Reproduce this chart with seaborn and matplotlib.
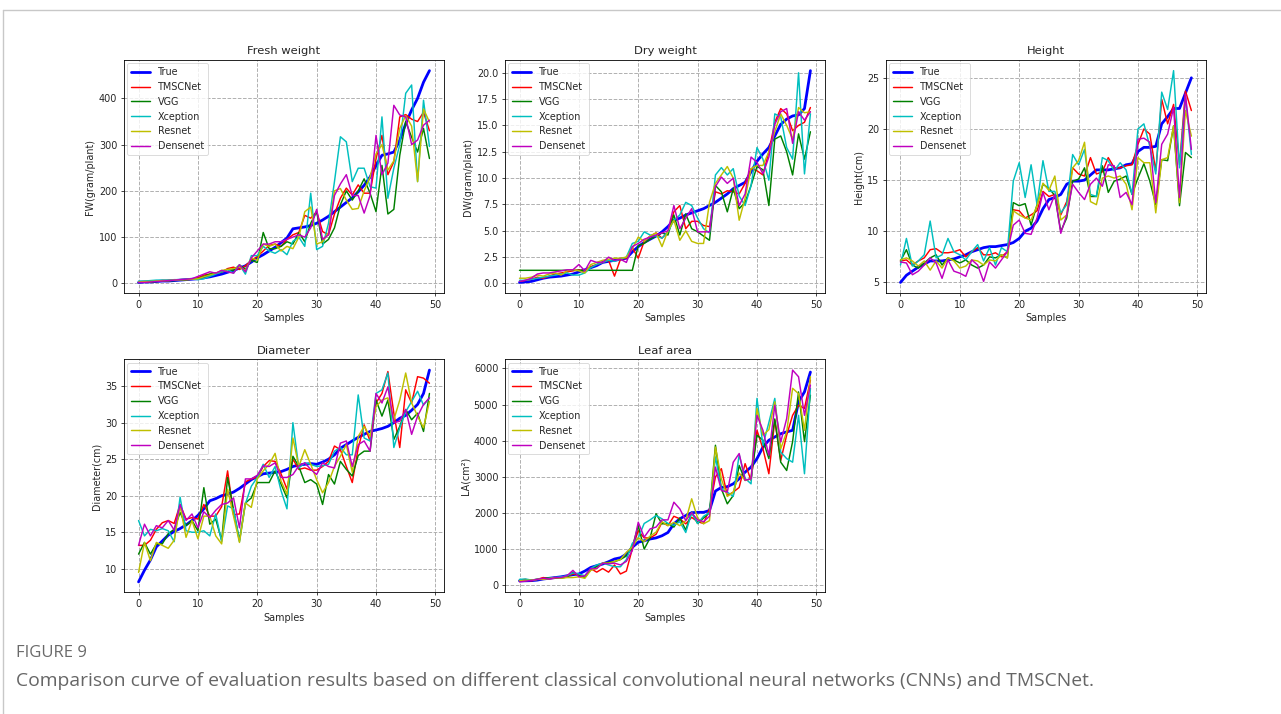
import matplotlib
matplotlib.use("Agg")
import matplotlib.pyplot as plt
from matplotlib.lines import Line2D
import numpy as np
import seaborn as sns

samples = list(range(50))
series_names = ["True", "TMSCNet", "VGG", "Xception", "Resnet", "Densenet"]
series_colors = ["#0000ff", "#ff0000", "#008000", "#00bfbf", "#bfbf00", "#bf00bf"]

# ---------------- Fresh weight ----------------
fw_true = [2,3,3,4,5,5,6,7,8,9, 10,12,14,17,20,24,28,33,38,46, 55,62,70,78,88,98,118,120,122,125,
           130,137,145,155,165,175,185,198,212,230, 255,277,280,284,310,345,375,400,435,460]
fw_tms = [3,3,4,5,6,6,7,8,8,9, 12,18,20,22,24,32,35,30,38,50, 58,70,82,85,80,95,105,110,147,141,
          155,112,105,150,184,206,191,213,195,195, 270,320,235,263,360,365,355,350,370,330]
fw_vgg = [2,3,3,4,5,6,6,7,8,9, 10,15,20,22,25,30,28,40,30,50, 45,110,75,75,80,90,85,110,90,130,
          155,85,95,120,170,200,180,200,226,195, 155,255,150,160,277,350,316,284,335,270]
fw_xcp = [5,5,6,7,7,7,8,8,9,10, 8,10,15,20,25,30,22,40,20,60, 60,80,70,65,73,62,91,100,80,195,
          73,80,130,220,317,306,220,249,249,209, 206,360,184,249,300,411,429,220,396,296]
fw_res = [3,4,4,5,6,6,7,8,8,9, 10,14,18,22,28,30,32,35,28,55, 50,85,80,85,70,80,75,100,155,165,
          85,90,110,200,205,180,160,162,200,230, 280,300,245,265,335,363,340,220,377,349]
fw_den = [2,2,3,4,5,6,7,8,9,10, 15,20,25,22,28,25,22,40,25,55, 70,85,85,90,90,95,100,105,100,120,
          160,95,105,190,215,235,190,190,152,190, 320,235,260,385,364,360,300,310,342,353]

# ---------------- Dry weight ----------------
dw_true = [0.1,0.15,0.2,0.35,0.5,0.6,0.65,0.7,0.8,0.9, 1.1,1.3,1.5,1.7,2.0,2.1,2.2,2.3,2.4,3.0,
           3.5,3.9,4.2,4.5,4.9,5.4,6.0,6.2,6.5,6.7, 6.9,7.1,7.4,7.7,8.1,8.5,9.0,9.3,9.6,10.6,
           11.6,12.3,12.9,14.0,15.1,15.6,15.9,16.0,16.6,20.2]
dw_tms = [0.2,0.3,0.4,0.6,0.5,0.7,0.9,1.0,1.1,1.2, 1.3,1.2,1.6,1.8,2.0,2.2,0.7,2.3,2.4,3.4,
          2.4,4.0,4.5,4.8,4.3,4.9,6.8,7.4,5.2,5.9, 5.9,5.5,5.4,8.7,8.5,8.8,8.7,8.5,9.5,10.9,
          10.7,10.3,12.5,15.3,16.6,16.1,14.5,15.0,15.3,16.7]
dw_vgg = [1.25,1.25,1.25,1.25,1.25,1.25,1.25,1.25,1.25,1.25, 1.25,1.25,1.25,1.25,1.25,1.25,1.25,1.25,1.25,1.25,
          3.6,3.8,4.2,4.5,4.8,4.6,6.5,4.6,6.6,5.2, 4.9,4.5,4.1,9.3,8.7,6.8,9.0,7.1,7.7,9.3,
          11.1,10.8,7.4,13.7,14.0,12.5,10.3,14.2,11.8,14.4]
dw_xcp = [0.3,0.3,0.4,0.5,0.6,0.7,0.8,0.9,1.0,0.8, 0.8,1.0,1.5,1.8,2.0,2.2,2.1,2.3,2.5,3.8,
          4.0,4.9,4.6,4.5,4.3,4.9,6.0,6.5,7.7,7.4, 6.2,5.2,4.8,10.3,11.0,10.3,10.9,8.3,7.4,9.3,
          12.9,11.8,9.8,16.1,15.8,12.9,11.8,20.0,10.4,16.1]
dw_res = [0.5,0.5,0.6,0.8,0.7,0.9,1.0,0.8,1.2,1.3, 1.2,1.0,1.8,2.0,2.2,2.3,2.4,2.4,2.5,3.3,
          4.4,4.0,4.5,4.8,3.5,5.0,6.0,4.1,5.0,4.0, 3.8,3.8,7.7,9.5,10.3,11.1,10.0,6.0,8.1,10.9,
          11.2,11.2,12.5,14.4,16.1,15.0,13.7,16.7,16.2,16.3]
dw_den = [0.2,0.3,0.5,0.9,1.0,1.0,1.1,1.2,1.3,1.3, 1.8,1.2,2.2,2.0,2.0,2.5,2.2,2.3,2.0,3.5,
          3.8,4.2,4.4,4.6,4.8,5.0,7.4,5.2,6.2,7.1, 4.9,4.9,4.9,9.2,10.1,9.5,10.0,7.4,8.5,12.0,
          11.5,10.4,12.0,15.1,16.3,16.6,13.3,16.3,15.5,16.3]

# ---------------- Height ----------------
h_true = [5.0,5.7,6.1,6.5,6.8,7.1,7.1,7.1,7.2,7.3, 7.5,7.7,8.0,8.2,8.4,8.5,8.5,8.6,8.7,8.9,
          9.3,10.0,10.3,11.0,12.2,13.1,13.3,13.6,14.6,14.9, 14.9,15.0,15.5,16.0,16.0,16.0,16.1,16.2,16.5,16.6,
          17.8,18.2,18.2,18.3,20.5,21.2,22.0,22.0,23.5,25.0]
h_tms = [7.1,7.2,6.7,7.1,7.4,8.2,8.3,7.9,7.9,8.0, 8.2,7.5,8.0,8.4,7.7,7.7,7.9,7.5,8.0,12.1,
         12.0,11.3,11.6,12.0,13.9,13.4,13.6,11.6,12.9,16.2, 15.6,15.4,17.2,15.6,15.8,17.2,16.2,16.2,16.4,16.5,
         18.5,20.0,19.5,15.9,22.9,20.5,22.4,16.5,23.7,21.8]
h_vgg = [7.1,8.2,6.7,6.4,6.9,7.4,7.7,6.7,7.4,7.2, 6.9,7.2,6.7,6.4,6.7,7.5,7.4,7.7,7.4,12.8,
         12.5,12.7,10.6,12.6,14.6,14.2,13.5,10.0,11.3,14.9, 15.1,16.2,13.4,13.4,16.4,13.8,14.9,15.1,15.4,13.6,
         15.2,16.6,14.9,12.6,17.0,16.9,20.3,12.5,17.7,17.2]
h_xcp = [6.7,9.3,6.6,7.1,7.7,11.0,7.4,7.7,9.3,8.0, 7.7,7.2,8.0,8.7,7.1,8.4,6.7,8.4,8.0,14.9,
         16.7,13.3,16.5,12.6,16.9,13.9,13.9,11.8,12.6,17.5, 16.5,18.0,13.6,13.4,17.2,16.9,15.9,16.7,16.0,13.6,
         20.0,20.5,18.3,15.6,23.6,21.9,25.7,16.2,23.1,17.5]
h_res = [7.2,7.4,7.1,6.6,7.1,6.2,7.1,6.4,7.4,7.1, 6.4,6.6,7.2,7.1,6.7,7.2,7.1,7.7,7.4,12.0,
         11.6,11.3,11.1,12.5,14.7,14.0,15.4,11.1,11.6,16.2, 16.9,18.7,12.9,12.6,15.2,15.4,15.2,15.4,14.6,12.1,
         17.2,16.7,16.7,11.8,17.0,17.2,20.3,12.8,21.8,19.3]
h_den = [7.0,6.9,5.75,6.1,6.7,7.4,6.9,5.4,7.2,6.1, 5.9,5.6,7.2,6.7,5.1,7.0,6.4,7.2,8.0,10.6,
         11.1,9.8,9.7,11.3,13.8,12.1,13.6,9.8,11.6,14.6, 13.8,13.1,14.6,15.2,14.4,16.5,16.4,13.3,13.8,12.6,
         19.0,19.1,18.7,12.8,18.5,19.5,22.1,13.3,23.4,18.0]

# ---------------- Diameter ----------------
d_true = [8.2,9.8,11.2,13.0,13.8,14.6,15.1,15.5,16.0,16.6, 17.3,18.2,19.3,19.6,20.0,20.2,20.5,21.0,21.6,22.2,
          22.6,23.0,23.1,23.2,23.3,23.6,24.0,24.2,24.3,24.4, 24.3,24.6,25.0,25.6,26.5,27.0,27.5,28.0,28.4,28.8,
          29.0,29.2,29.5,30.0,30.6,31.0,31.7,32.5,34.0,37.2]
d_tms = [13.2,13.2,13.9,15.4,16.3,16.6,16.2,18.8,16.8,17.0, 16.8,18.8,17.2,17.2,18.5,23.4,17.4,17.5,21.9,22.3,
         22.5,24.0,24.8,24.7,23.0,20.9,25.0,23.6,23.8,23.5, 23.5,24.0,24.7,26.8,26.3,24.0,21.8,26.5,29.7,27.5,
         32.7,34.0,37.0,31.3,26.6,34.5,32.7,36.3,36.1,35.4]
d_vgg = [12.0,13.6,12.0,13.4,13.4,14.8,15.4,17.7,15.9,16.6, 15.2,21.1,16.1,16.8,13.9,22.5,18.1,13.9,19.0,19.7,
         21.8,21.8,21.8,23.4,21.6,19.7,25.4,24.0,21.8,22.2, 21.6,18.8,22.9,21.6,24.7,23.6,22.7,25.5,26.1,26.1,
         33.1,30.9,33.1,27.7,29.5,31.8,30.4,31.3,28.8,34.0]
d_xcp = [16.6,14.5,15.4,15.2,15.5,15.2,13.7,19.8,15.2,15.0, 15.0,15.2,14.5,17.5,13.7,18.6,18.2,13.7,18.9,21.3,
         22.5,24.3,22.5,24.0,20.7,18.2,30.0,23.8,24.5,24.3, 24.0,24.1,24.3,26.1,26.6,25.6,25.6,33.8,27.9,27.5,
         34.0,34.5,36.8,26.6,29.3,31.5,32.9,34.3,32.4,33.4]
d_res = [9.5,13.6,11.1,13.6,13.2,12.8,13.9,18.6,14.3,16.6, 14.1,17.2,17.2,14.5,13.4,20.9,17.2,13.6,19.0,18.4,
         22.3,23.4,24.3,25.8,22.0,20.2,27.9,24.0,26.3,24.3, 22.2,20.4,21.8,24.0,25.4,27.0,23.2,28.1,29.5,28.1,
         32.2,33.1,33.4,30.4,33.1,36.8,32.7,30.9,29.3,32.9]
d_den = [13.2,16.1,14.5,15.9,15.6,16.6,15.3,18.8,16.6,17.5, 15.6,17.8,17.0,18.0,18.8,19.0,19.7,15.6,22.3,22.3,
         22.8,24.1,24.0,24.5,22.5,22.5,22.9,24.1,24.5,23.6, 22.9,24.5,24.0,23.8,27.2,27.5,24.0,27.0,27.5,26.1,
         34.0,32.7,34.9,30.0,30.2,31.8,28.4,30.9,32.5,33.4]

# ---------------- Leaf area ----------------
la_true = [110,110,115,130,160,180,200,220,250,280, 300,380,480,530,575,640,715,750,850,1040,
           1180,1220,1270,1300,1360,1450,1690,1830,1920,2000, 2010,2010,2060,2600,2700,2720,2800,2940,3125,3265,
           3500,3820,4010,4100,4190,4240,4285,5075,5350,5900]
la_tms = [130,150,110,150,200,170,180,200,230,300, 280,200,450,350,450,350,550,300,380,1000,
          1500,1300,1300,1400,1735,1640,1900,1830,1690,1870, 1750,1700,2105,2990,3220,2475,2570,2700,3360,2895,
          4285,3775,3080,4565,3450,4150,4700,4980,4890,5680]
la_vgg = [100,120,130,150,170,190,200,180,220,350, 250,200,420,500,600,620,640,700,800,1050,
          1640,990,1300,1970,1690,1700,1600,1850,1520,2010, 1700,1850,2000,3870,2660,2245,2475,3310,2895,2940,
          4150,4010,3500,4600,3400,3170,3970,5350,3970,5260]
la_xcp = [150,160,130,150,160,180,200,220,250,330, 300,250,450,550,600,550,500,500,700,1150,
          1300,1700,1800,1920,1830,1700,1650,1750,1450,2000, 1700,1900,2000,3545,2660,2570,2450,3610,2950,2800,
          5170,3870,4500,5170,3680,3500,3400,4700,3080,5450]
la_res = [110,120,130,150,150,170,200,180,200,200, 220,180,400,450,600,600,650,700,900,1050,
          1300,1200,1350,1460,1750,1640,1730,1640,1780,2385, 1850,1690,1780,3820,2940,2450,2570,3100,2895,2940,
          4890,4150,4300,5075,3775,4240,5450,5300,4285,5770]
la_den = [80,100,120,150,180,160,200,200,250,400, 220,250,450,450,600,580,600,550,650,950,
          1735,1320,1550,1600,1800,1800,2290,2105,1780,2000, 1800,1750,1900,3265,2615,2570,3400,3640,2900,2940,
          4700,4285,3590,4980,3960,4610,5955,5770,4700,5540]

panel_titles = ["Fresh weight", "Dry weight", "Height", "Diameter", "Leaf area"]
panel_ylabels = ["FW(gram/plant)", "DW(gram/plant)", "Height(cm)", "Diameter(cm)", "LA(cm²)"]
panel_data = [
    [fw_true, fw_tms, fw_vgg, fw_xcp, fw_res, fw_den],
    [dw_true, dw_tms, dw_vgg, dw_xcp, dw_res, dw_den],
    [h_true, h_tms, h_vgg, h_xcp, h_res, h_den],
    [d_true, d_tms, d_vgg, d_xcp, d_res, d_den],
    [la_true, la_tms, la_vgg, la_xcp, la_res, la_den],
]
panel_yticks = [
    [0, 100, 200, 300, 400],
    [0.0, 2.5, 5.0, 7.5, 10.0, 12.5, 15.0, 17.5, 20.0],
    [5, 10, 15, 20, 25],
    [10, 15, 20, 25, 30, 35],
    [0, 1000, 2000, 3000, 4000, 5000, 6000],
]
xticks = [0, 10, 20, 30, 40, 50]

sns.set_style("white")
plt.rcParams["font.family"] = ["DejaVu Sans"]

BASE = 6.9
fig = plt.figure(figsize=(12.81, 7.14), dpi=100)

W, H = 0.2498, 0.3263
lefts = [0.0968, 0.3942, 0.6916, 0.0968, 0.3942]
bottoms = [0.5896, 0.5896, 0.5896, 0.1702, 0.1702]

for i in range(5):
    ax = fig.add_axes([lefts[i], bottoms[i], W, H])
    ax.set_facecolor("white")
    for j, name in enumerate(series_names):
        sns.lineplot(x=samples, y=panel_data[i][j], ax=ax, color=series_colors[j],
                     linewidth=2.0 if j == 0 else 1.05, label=name, zorder=3)
    ax.set_title(panel_titles[i], fontsize=BASE * 1.2, pad=4)
    ax.set_xlabel("Samples", fontsize=BASE, labelpad=2.5)
    ax.set_ylabel(panel_ylabels[i], fontsize=BASE, labelpad=2.5)
    ax.set_xticks(xticks)
    ax.set_yticks(panel_yticks[i])
    if i == 1:
        ax.set_yticklabels([f"{v:.1f}" for v in panel_yticks[i]])
    ax.margins(x=0.05, y=0.05)
    ax.grid(True, linestyle="--", color="#b0b0b0", linewidth=0.7, zorder=0)
    ax.tick_params(labelsize=BASE, length=2.4, width=0.6, pad=2.4, direction="out",
                   bottom=True, left=True)
    for sp in ax.spines.values():
        sp.set_linewidth(0.6)
        sp.set_color("black")
        sp.set_visible(True)
    leg = ax.legend(loc="upper left", fontsize=BASE, frameon=True, handlelength=2.0,
                    borderpad=0.4, labelspacing=0.5, borderaxespad=0.35)
    leg.get_frame().set_linewidth(0.6)
    leg.get_frame().set_edgecolor("#cccccc")

# Decorative frame lines
fig.add_artist(Line2D([3 / 1281, 1.0], [1 - 10 / 714, 1 - 10 / 714], color="#c8c8c8", linewidth=1.0))
fig.add_artist(Line2D([3 / 1281, 3 / 1281], [0.0, 1 - 10 / 714], color="#c8c8c8", linewidth=1.0))

# Caption
cap_font = ["Open Sans", "DejaVu Sans"]
t1 = fig.text(16 / 1281, 1 - 653 / 714, "FIGURE 9", fontsize=8.5, color="#6a6a6a",
              family=cap_font, va="center", ha="left")
caption = ("Comparison curve of evaluation results based on different classical convolutional "
           "neural networks (CNNs) and TMSCNet.")
t2 = fig.text(16 / 1281, 1 - 681 / 714, caption, fontsize=12, color="#666666",
              family=cap_font, va="center", ha="left")

# fit caption widths to the reference layout
fig.canvas.draw()
r = fig.canvas.get_renderer()
for t, target in ((t1, 70.0), (t2, 1069.0)):
    w = t.get_window_extent(renderer=r).width
    t.set_fontsize(t.get_fontsize() * target / w)

fig.savefig("out.png", dpi=100, facecolor="white")
